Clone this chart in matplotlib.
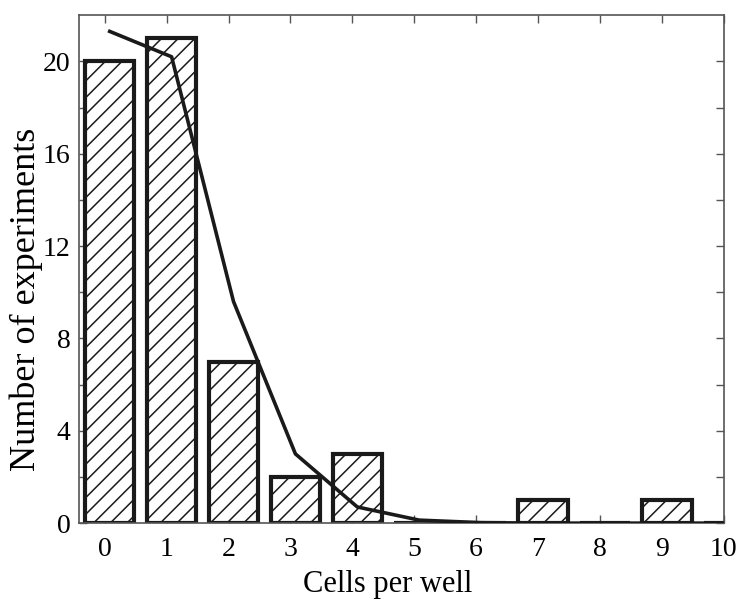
import numpy as np
import matplotlib
matplotlib.use("Agg")
import matplotlib.pyplot as plt

# observed counts per number of cells in a well
cells = [0, 1, 2, 3, 4, 5, 6, 7, 8, 9, 10]
counts = [20, 21, 7, 2, 3, 0, 0, 1, 0, 1, 0]
# fitted distribution
fit = [21.3, 20.2, 9.6, 3.0, 0.7, 0.13, 0.02, 0.0, 0.0, 0.0, 0.0]

plt.rcParams["font.family"] = ["Liberation Serif", "DejaVu Serif"]
plt.rcParams["hatch.linewidth"] = 1.1
plt.rcParams["hatch.color"] = "#1a1a1a"

fig = plt.figure(figsize=(7.5, 6.09), dpi=100)
ax = fig.add_axes([0.105, 0.141, 0.86, 0.834])

x = np.array(cells) + 0.08
ax.bar(x, counts, width=0.8, facecolor="white", edgecolor="#1a1a1a",
       linewidth=3.0, hatch="//", zorder=2)
ax.plot(x, fit, color="#1a1a1a", linewidth=2.6, zorder=3)

ax.set_xlim(-0.42, 10)
ax.set_ylim(0, 22)
ax.set_xticks(cells)
ax.set_yticks(np.arange(0, 22, 2))
ax.set_yticklabels(["0", "", "4", "", "8", "", "12", "", "16", "", "20"])
ax.tick_params(direction="in", length=6, width=1.0, color="#555555",
               top=True, right=True, labelsize=20)
ax.tick_params(axis="x", pad=10)
ax.tick_params(axis="y", pad=6)
for s in ax.spines.values():
    s.set_color("#555555")
    s.set_linewidth(1.2)

ax.set_xlabel("Cells per well", fontsize=22)
ax.set_ylabel("Number of experiments", fontsize=26)
ax.xaxis.set_label_coords(0.479, -0.092)
ax.yaxis.set_label_coords(-0.055, 0.44)

fig.savefig("out.png", dpi=100)
